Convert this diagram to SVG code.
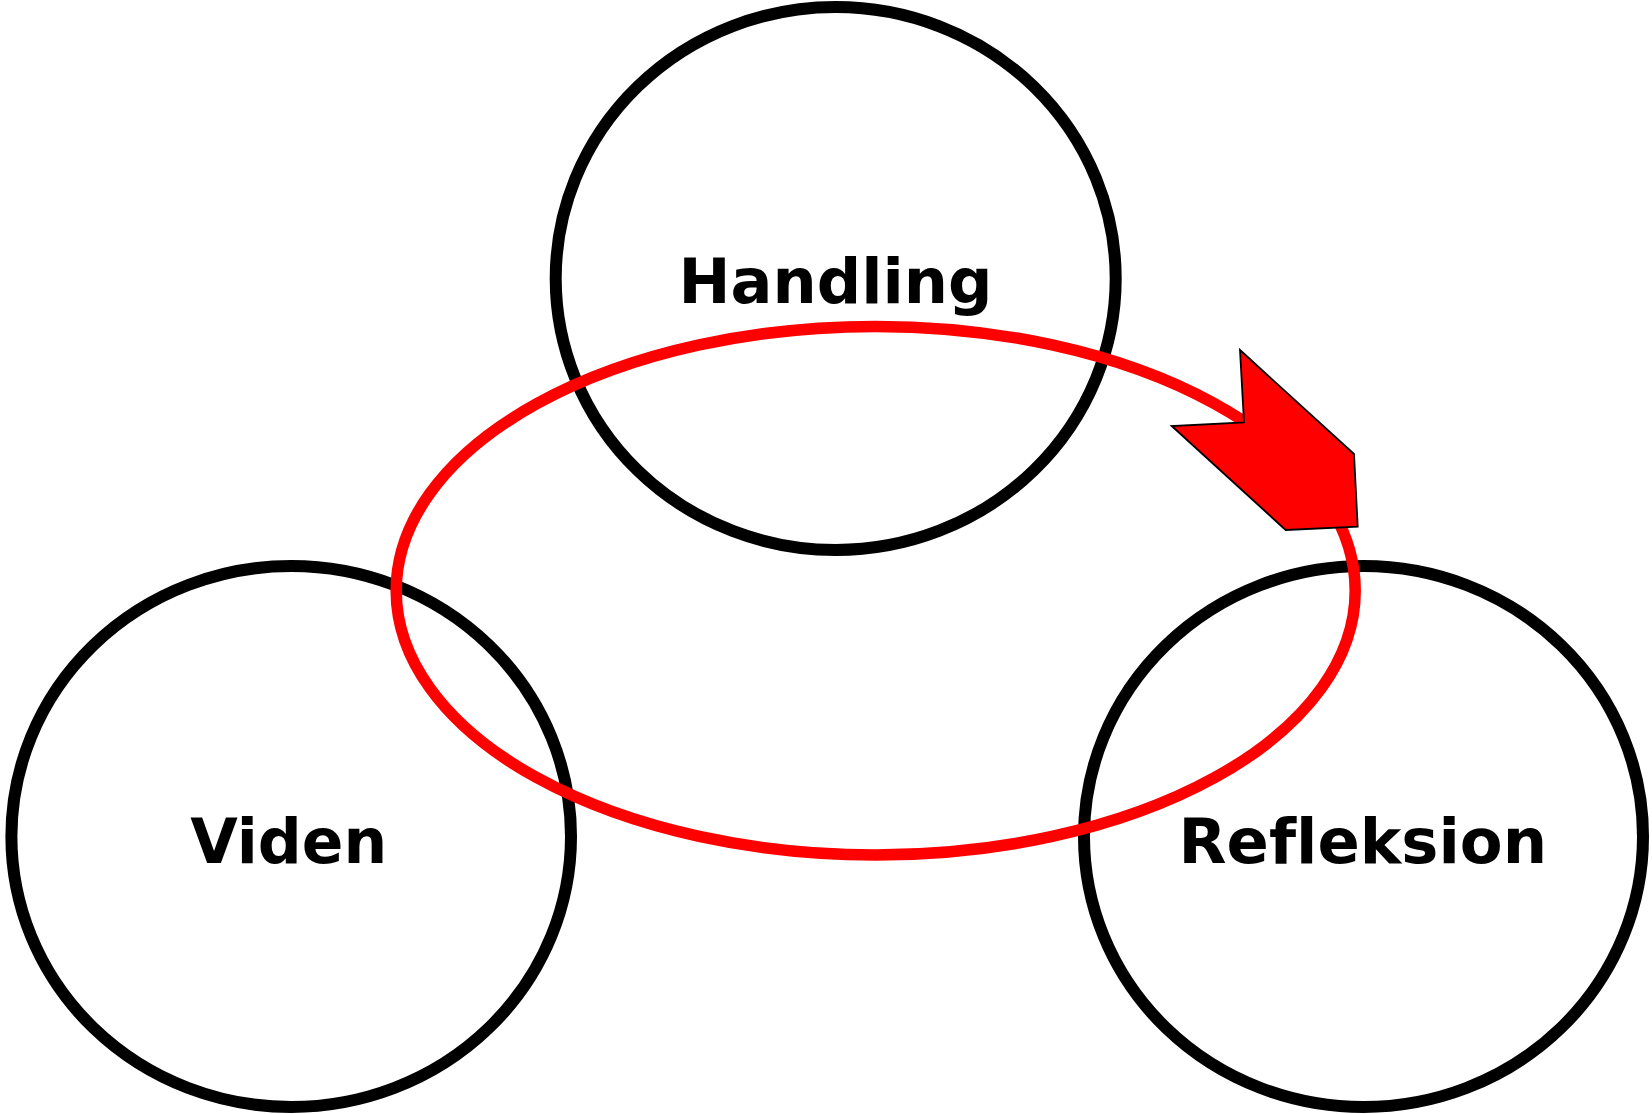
<svg xmlns="http://www.w3.org/2000/svg" width="1652" height="1114" viewBox="0 0 1652 1114">
<style>
.node{fill:none;stroke:#000;stroke-width:12}
.lbl{font-family:"DejaVu Sans","Verdana",sans-serif;font-weight:bold;font-size:63px;fill:#000;text-anchor:middle;font-variant-ligatures:none;font-feature-settings:"liga" 0,"clig" 0}
.cycle{fill:none;stroke:#ff0000;stroke-width:11.5}
.head{fill:#ff0000;stroke:#000;stroke-width:1.8;stroke-linejoin:miter}
</style>
<rect width="1652" height="1114" fill="#fff"/>
<g id="handling">
<ellipse class="node" cx="835.7" cy="278.5" rx="280" ry="271.5"/>
<text class="lbl" x="835.6" y="302.5" textLength="314" lengthAdjust="spacingAndGlyphs">Handling</text>
</g>
<g id="viden">
<ellipse class="node" cx="291.2" cy="836.5" rx="279.8" ry="270.5"/>
<text class="lbl" x="288.7" y="863" textLength="197" lengthAdjust="spacingAndGlyphs">Viden</text>
</g>
<g id="refleksion">
<ellipse class="node" cx="1363.5" cy="836.5" rx="279.5" ry="270.5"/>
<text class="lbl" x="1362.8" y="862.6" textLength="368.5" lengthAdjust="spacingAndGlyphs">Refleksion</text>
</g>
<g id="connectors">
<ellipse class="cycle" cx="875.7" cy="590.7" rx="479.5" ry="264.3"/>
<polygon class="head" points="1240,350 1244,422.3 1171.7,426 1285.7,530 1357.7,526.7 1354,454"/>
</g>
</svg>
